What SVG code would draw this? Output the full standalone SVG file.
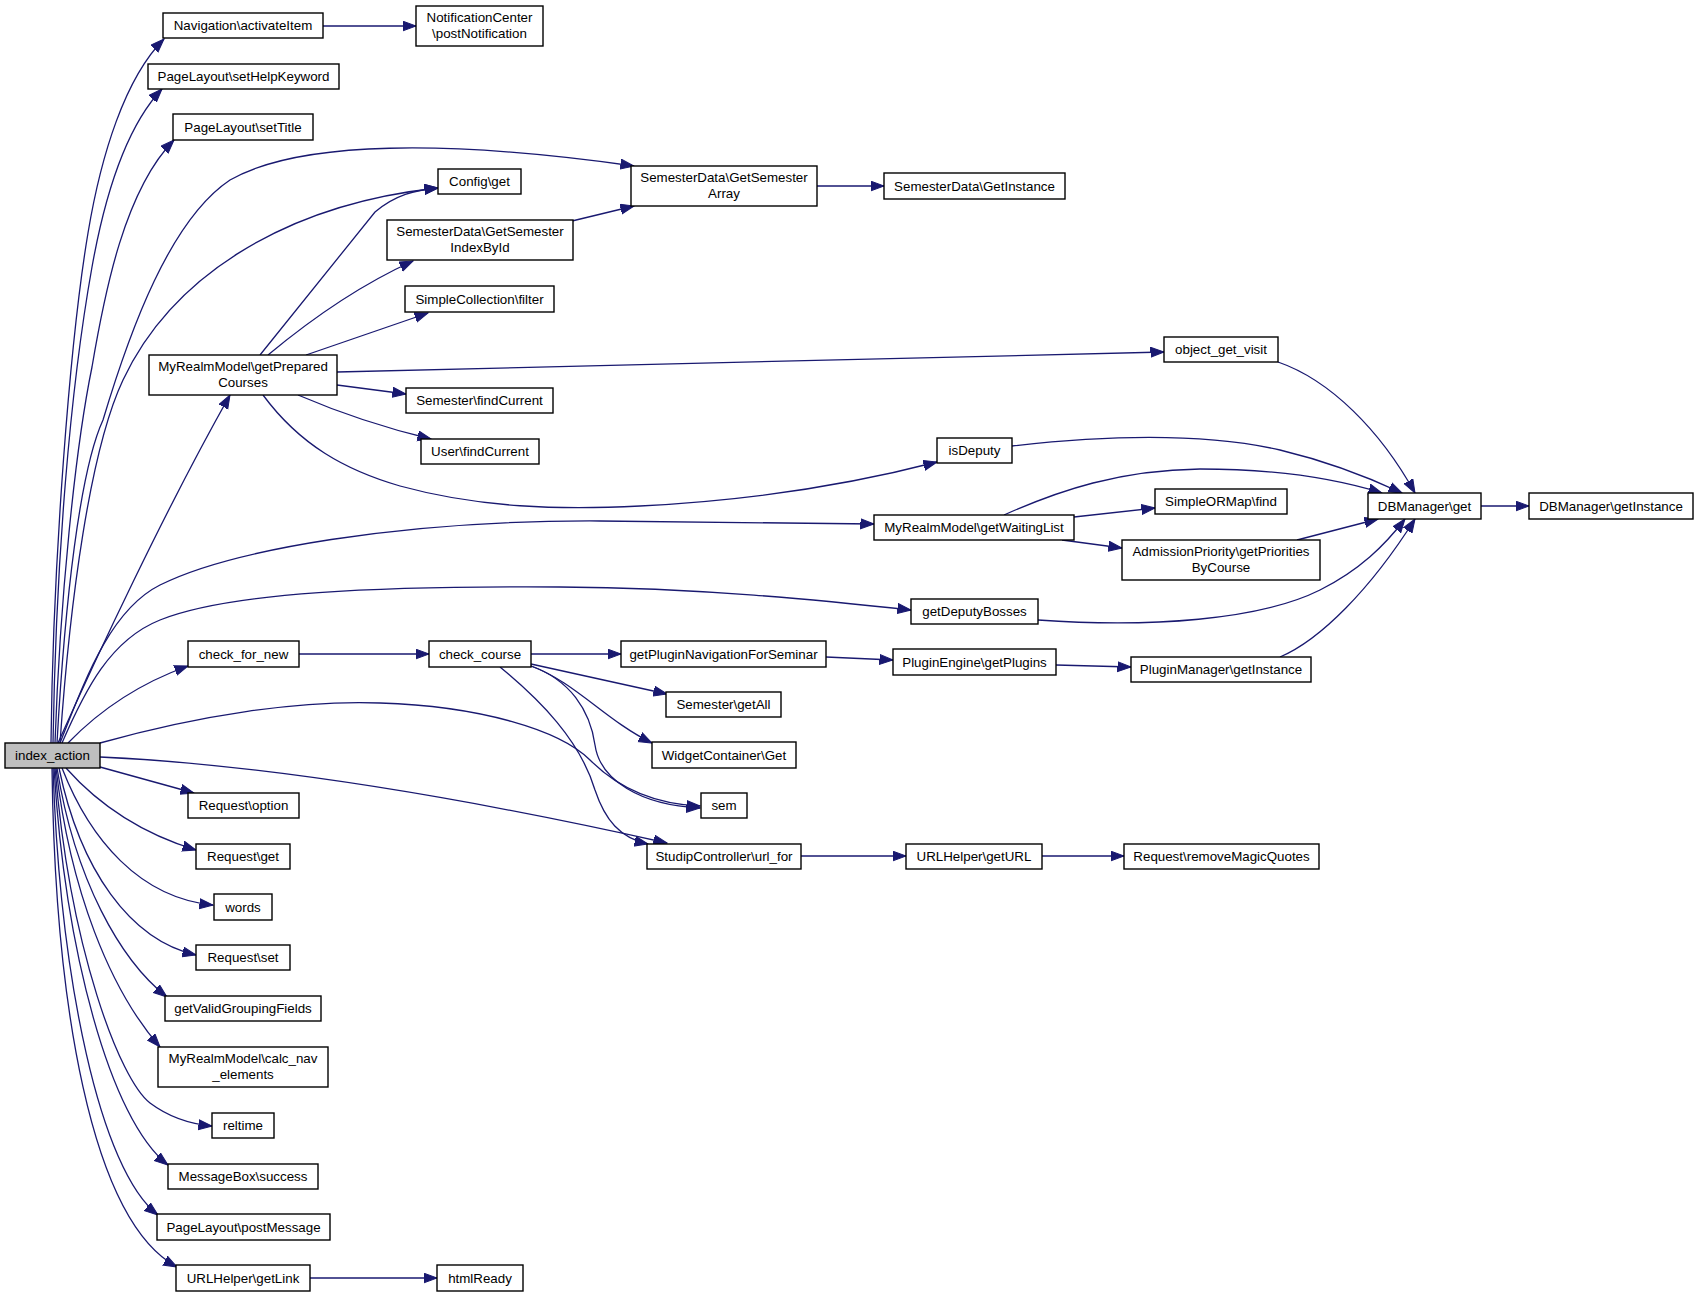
<svg xmlns="http://www.w3.org/2000/svg" width="1697" height="1297" viewBox="0 0 1697 1297">
<style>
.n rect{fill:#fff;stroke:#000;stroke-width:1.4}
.r rect{fill:#bfbfbf;stroke:#000;stroke-width:1.4}
text{font-family:"Liberation Sans",Arial,sans-serif;font-size:13.33px;text-anchor:middle;fill:#000}
.e path{fill:none;stroke:#191970;stroke-width:1.3;marker-end:url(#a)}
</style>
<defs>
<marker id="a" markerUnits="userSpaceOnUse" markerWidth="15" markerHeight="12" refX="13.5" refY="5.5" orient="auto">
<path d="M0,0.5 L13.5,5.5 L0,10.5 z" fill="#191970" stroke="#191970" stroke-width="1"/>
</marker>
</defs>
<rect width="1697" height="1297" fill="#fff"/>
<g class="e" id="edges">
<path d="M51,743 C53,560 70,340 88,233 C101,155 125,78 164,39"/>
<path d="M53,743 C56,560 70,390 92,267 C104,200 125,128 162,89"/>
<path d="M55,743 C60,600 75,450 92,367 C105,290 125,190 174,140"/>
<path d="M57,743 C65,600 80,470 103,420 C130,330 170,220 230,180 C300,140 450,140 634,166"/>
<path d="M60,743 C70,600 90,450 123,380 C170,280 280,205 438,188"/>
<path d="M58,743 C95,660 165,510 230,395"/>
<path d="M60,743 C85,680 110,610 160,585 C230,550 400,520 600,521 C700,522 800,523 874,524"/>
<path d="M62,743 C85,690 110,640 160,620 C230,592 380,586 560,587 C700,588 820,600 911,610"/>
<path d="M68,743 C95,715 135,685 188,666"/>
<path d="M100,743 C200,715 300,700 380,703 C480,706 560,730 590,760 C615,785 650,804 700,806"/>
<path d="M100,757 C250,764 430,790 667,843"/>
<path d="M100,767 L194,793"/>
<path d="M66,768 C90,795 130,830 196,850"/>
<path d="M62,768 C90,840 140,898 213,905"/>
<path d="M59,768 C80,870 130,940 196,955"/>
<path d="M57,768 C75,880 120,960 167,997"/>
<path d="M56,768 C70,890 110,990 160,1047"/>
<path d="M55,768 C70,950 120,1080 150,1103 C170,1118 190,1124 212,1126"/>
<path d="M54,768 C65,950 110,1120 168,1165"/>
<path d="M53,768 C60,980 100,1170 158,1215"/>
<path d="M52,768 C55,1000 90,1220 177,1267"/>
<path d="M323,26 L416,26"/>
<path d="M260,355 L375,212 C395,195 415,190 438,188"/>
<path d="M268,355 C310,320 360,285 413,261"/>
<path d="M306,355 L428,313"/>
<path d="M337,372 L1164,352"/>
<path d="M337,385 L406,394"/>
<path d="M298,395 C340,413 385,428 431,439"/>
<path d="M263,395 C300,445 345,470 400,486 C480,508 560,510 640,506 C760,500 860,482 937,462"/>
<path d="M572,221 L634,206"/>
<path d="M817,186 L884,186"/>
<path d="M1278,362 C1330,380 1380,430 1415,493"/>
<path d="M1012,446 C1100,436 1200,432 1280,450 C1330,462 1370,478 1402,493"/>
<path d="M1004,515 C1060,490 1120,470 1200,469 C1280,469 1340,480 1382,493"/>
<path d="M1074,517 L1155,508"/>
<path d="M1062,540 L1122,548"/>
<path d="M1297,540 L1378,519"/>
<path d="M1038,620 C1150,628 1260,620 1320,590 C1360,570 1385,545 1405,519"/>
<path d="M1280,657 C1320,640 1370,590 1415,519"/>
<path d="M1481,506 L1529,506"/>
<path d="M299,654 L429,654"/>
<path d="M531,654 L621,654"/>
<path d="M531,664 L667,694"/>
<path d="M531,666 C575,682 605,720 652,743"/>
<path d="M531,666 C570,680 590,710 595,745 C600,780 640,805 700,808"/>
<path d="M500,667 C540,700 580,740 595,790 C605,820 620,838 648,844"/>
<path d="M826,657 L893,660"/>
<path d="M1056,665 L1131,667"/>
<path d="M801,856 L906,856"/>
<path d="M1042,856 L1124,856"/>
<path d="M310,1278 L437,1278"/>
</g>
<g id="index_action" class="r"><rect x="5" y="743" width="95" height="25"/><text x="52.5" y="760">index_action</text></g>
<g id="nav_activateItem" class="n"><rect x="163" y="13" width="160" height="25"/><text x="243" y="30">Navigation\activateItem</text></g>
<g id="notification_post" class="n"><rect x="416" y="6" width="127" height="40"/><text x="479.5" y="22.4">NotificationCenter</text><text x="479.5" y="37.8">\postNotification</text></g>
<g id="setHelpKeyword" class="n"><rect x="148" y="64" width="191" height="25"/><text x="243.5" y="81">PageLayout\setHelpKeyword</text></g>
<g id="setTitle" class="n"><rect x="173" y="114" width="140" height="26"/><text x="243" y="131.5">PageLayout\setTitle</text></g>
<g id="config_get" class="n"><rect x="438" y="169" width="83" height="25"/><text x="479.5" y="186">Config\get</text></g>
<g id="getSemesterArray" class="n"><rect x="631" y="166" width="186" height="40"/><text x="724" y="182.4">SemesterData\GetSemester</text><text x="724" y="197.8">Array</text></g>
<g id="semdata_getInstance" class="n"><rect x="884" y="173" width="181" height="26"/><text x="974.5" y="190.5">SemesterData\GetInstance</text></g>
<g id="getSemesterIndexById" class="n"><rect x="387" y="220" width="186" height="40"/><text x="480" y="236.4">SemesterData\GetSemester</text><text x="480" y="251.8">IndexById</text></g>
<g id="simplecollection_filter" class="n"><rect x="405" y="286" width="149" height="26"/><text x="479.5" y="303.5">SimpleCollection\filter</text></g>
<g id="getPreparedCourses" class="n"><rect x="149" y="355" width="188" height="40"/><text x="243" y="371.4">MyRealmModel\getPrepared</text><text x="243" y="386.8">Courses</text></g>
<g id="object_get_visit" class="n"><rect x="1164" y="337" width="114" height="25"/><text x="1221" y="354">object_get_visit</text></g>
<g id="semester_findCurrent" class="n"><rect x="406" y="388" width="147" height="25"/><text x="479.5" y="405">Semester\findCurrent</text></g>
<g id="user_findCurrent" class="n"><rect x="421" y="439" width="118" height="25"/><text x="480" y="456">User\findCurrent</text></g>
<g id="isDeputy" class="n"><rect x="937" y="438" width="75" height="25"/><text x="974.5" y="455">isDeputy</text></g>
<g id="dbmanager_get" class="n"><rect x="1368" y="493" width="113" height="26"/><text x="1424.5" y="510.5">DBManager\get</text></g>
<g id="dbmanager_getInstance" class="n"><rect x="1529" y="493" width="164" height="26"/><text x="1611" y="510.5">DBManager\getInstance</text></g>
<g id="simpleormap_find" class="n"><rect x="1155" y="489" width="132" height="25"/><text x="1221" y="506">SimpleORMap\find</text></g>
<g id="getWaitingList" class="n"><rect x="874" y="515" width="200" height="25"/><text x="974" y="532">MyRealmModel\getWaitingList</text></g>
<g id="getPrioritiesByCourse" class="n"><rect x="1122" y="540" width="198" height="40"/><text x="1221" y="556.4">AdmissionPriority\getPriorities</text><text x="1221" y="571.8">ByCourse</text></g>
<g id="getDeputyBosses" class="n"><rect x="911" y="599" width="127" height="25"/><text x="974.5" y="616">getDeputyBosses</text></g>
<g id="check_for_new" class="n"><rect x="188" y="641" width="111" height="26"/><text x="243.5" y="658.5">check_for_new</text></g>
<g id="check_course" class="n"><rect x="429" y="641" width="102" height="26"/><text x="480" y="658.5">check_course</text></g>
<g id="getPluginNavigationForSeminar" class="n"><rect x="621" y="641" width="205" height="26"/><text x="723.5" y="658.5">getPluginNavigationForSeminar</text></g>
<g id="pluginengine_getPlugins" class="n"><rect x="893" y="649" width="163" height="26"/><text x="974.5" y="666.5">PluginEngine\getPlugins</text></g>
<g id="pluginmanager_getInstance" class="n"><rect x="1131" y="657" width="180" height="25"/><text x="1221" y="674">PluginManager\getInstance</text></g>
<g id="semester_getAll" class="n"><rect x="666" y="692" width="115" height="25"/><text x="723.5" y="709">Semester\getAll</text></g>
<g id="widgetcontainer_get" class="n"><rect x="652" y="742" width="144" height="26"/><text x="724" y="759.5">WidgetContainer\Get</text></g>
<g id="sem" class="n"><rect x="701" y="793" width="46" height="25"/><text x="724" y="810">sem</text></g>
<g id="request_option" class="n"><rect x="188" y="793" width="111" height="25"/><text x="243.5" y="810">Request\option</text></g>
<g id="url_for" class="n"><rect x="647" y="844" width="154" height="25"/><text x="724" y="861">StudipController\url_for</text></g>
<g id="urlhelper_getURL" class="n"><rect x="906" y="844" width="136" height="25"/><text x="974" y="861">URLHelper\getURL</text></g>
<g id="removeMagicQuotes" class="n"><rect x="1124" y="844" width="195" height="25"/><text x="1221.5" y="861">Request\removeMagicQuotes</text></g>
<g id="request_get" class="n"><rect x="196" y="844" width="94" height="25"/><text x="243" y="861">Request\get</text></g>
<g id="words" class="n"><rect x="214" y="894" width="58" height="26"/><text x="243" y="911.5">words</text></g>
<g id="request_set" class="n"><rect x="196" y="945" width="94" height="25"/><text x="243" y="962">Request\set</text></g>
<g id="getValidGroupingFields" class="n"><rect x="165" y="996" width="156" height="25"/><text x="243" y="1013">getValidGroupingFields</text></g>
<g id="calc_nav_elements" class="n"><rect x="158" y="1047" width="170" height="40"/><text x="243" y="1063.4">MyRealmModel\calc_nav</text><text x="243" y="1078.8">_elements</text></g>
<g id="reltime" class="n"><rect x="212" y="1113" width="62" height="25"/><text x="243" y="1130">reltime</text></g>
<g id="messagebox_success" class="n"><rect x="168" y="1164" width="150" height="25"/><text x="243" y="1181">MessageBox\success</text></g>
<g id="postMessage" class="n"><rect x="157" y="1214" width="173" height="26"/><text x="243.5" y="1231.5">PageLayout\postMessage</text></g>
<g id="urlhelper_getLink" class="n"><rect x="176" y="1265" width="134" height="26"/><text x="243" y="1282.5">URLHelper\getLink</text></g>
<g id="htmlReady" class="n"><rect x="437" y="1265" width="86" height="26"/><text x="480" y="1282.5">htmlReady</text></g>
</svg>
